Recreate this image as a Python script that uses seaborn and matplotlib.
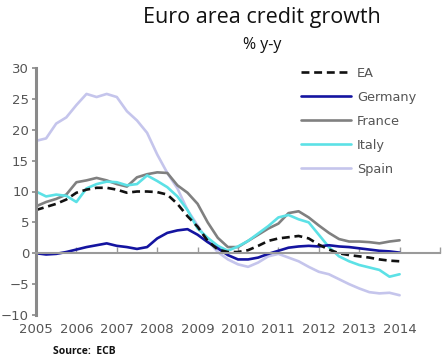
import numpy as np
import pandas as pd
import matplotlib
matplotlib.use("Agg")
import matplotlib.pyplot as plt
import seaborn as sns

# ---- data (quarterly, % y-y) ----
dates = [2005.0 + 0.25 * i for i in range(37)]

ea = [7.0, 7.5, 8.0, 8.7, 9.8, 10.3, 10.6, 10.6, 10.3, 9.8, 10.0, 10.0, 9.9,
      9.5, 8.0, 6.0, 4.3, 2.0, 0.6, 0.2, 0.2, 0.5, 1.2, 2.0, 2.4, 2.6, 2.8,
      2.4, 1.4, 0.6, 0.0, -0.3, -0.5, -0.7, -1.0, -1.2, -1.3]
germany = [0.0, -0.2, -0.1, 0.2, 0.6, 1.0, 1.3, 1.6, 1.2, 1.0, 0.7, 1.0, 2.4,
           3.3, 3.7, 3.9, 3.0, 1.8, 0.8, -0.3, -1.0, -1.0, -0.7, -0.1, 0.4,
           0.9, 1.1, 1.2, 1.1, 1.3, 1.1, 1.0, 0.8, 0.6, 0.4, 0.3, 0.1]
france = [7.6, 8.3, 8.8, 9.5, 11.5, 11.8, 12.2, 11.8, 11.2, 10.8, 12.3, 12.8,
          13.1, 13.0, 11.0, 9.8, 8.0, 5.0, 2.5, 1.0, 1.0, 2.0, 3.0, 4.0, 4.8,
          6.5, 6.8, 5.8, 4.5, 3.3, 2.3, 1.9, 1.9, 1.8, 1.6, 1.9, 2.1]
italy = [10.0, 9.2, 9.5, 9.3, 8.3, 10.5, 11.2, 11.6, 11.5, 11.0, 11.2, 12.6,
         11.7, 10.7, 9.2, 7.0, 4.0, 2.5, 1.2, 0.4, 1.1, 2.0, 3.2, 4.4, 5.8,
         6.2, 5.5, 5.0, 3.0, 1.0, -0.5, -1.3, -1.9, -2.3, -2.7, -3.8, -3.4]
spain = [18.2, 18.6, 21.0, 22.0, 24.0, 25.8, 25.3, 25.8, 25.3, 23.0, 21.5,
         19.5, 16.0, 13.0, 10.5, 7.0, 4.5, 2.0, 0.2, -1.0, -1.8, -2.2, -1.5,
         -0.5, -0.1, -0.7, -1.3, -2.2, -3.0, -3.4, -4.2, -5.0, -5.7, -6.3,
         -6.5, -6.4, -6.8]

series_names = ["EA", "Germany", "France", "Italy", "Spain"]
x_tick_years = list(range(2006, 2016))
x_label_years = list(range(2005, 2015))
y_ticks = [-10, -5, 0, 5, 10, 15, 20, 25, 30]

df = pd.DataFrame({"date": dates, "EA": ea, "Germany": germany,
                   "France": france, "Italy": italy, "Spain": spain})
long = df.melt(id_vars="date", var_name="series", value_name="value")

palette = {"EA": "#111111", "Germany": "#1414a0", "France": "#808080",
           "Italy": "#5ce1e6", "Spain": "#c5c5ec"}

sns.set_theme(style="white")
plt.rcParams["font.family"] = ["DejaVu Sans"]

fig = plt.figure(figsize=(4.45, 3.63), dpi=100)
ax = fig.add_axes([36 / 445, 1 - 315 / 363, 404 / 445, 247 / 363])

# draw back-to-front like the reference (Spain underneath)
order = ["Spain", "France", "Italy", "Germany", "EA"]
for name in order:
    sub = long[long["series"] == name]
    sns.lineplot(data=sub, x="date", y="value", ax=ax, color=palette[name],
                 lw=1.9, label=name, legend=False)
    if name == "EA":
        ax.lines[-1].set_dashes([3, 1.8])

ax.set_xlim(2005, 2015)
ax.set_ylim(-10, 30)
ax.set_xlabel("")
ax.set_ylabel("")

for s in ["top", "right"]:
    ax.spines[s].set_visible(False)
ax.spines["left"].set_color("#8a8a8a")
ax.spines["left"].set_linewidth(2.2)
ax.spines["bottom"].set_position(("data", 0))
ax.spines["bottom"].set_color("#9a9a9a")
ax.spines["bottom"].set_linewidth(1.5)

ax.set_yticks(y_ticks)
ax.tick_params(axis="y", direction="out", length=3, width=1.2,
               color="#8a8a8a", labelcolor="#555555", labelsize=9.5, pad=2,
               left=True)
ax.set_xticks(x_tick_years)
ax.tick_params(axis="x", direction="in", length=4, width=1.0,
               color="#9a9a9a", labelbottom=False, bottom=True)

sec = ax.secondary_xaxis("bottom")
sec.set_xticks(x_label_years)
sec.set_xticklabels([str(y) for y in x_label_years])
sec.spines["bottom"].set_visible(False)
sec.tick_params(axis="x", length=0, labelcolor="#555555", labelsize=9.5,
                pad=6)

# legend in reference order
handles = {l.get_label(): l for l in ax.lines}
leg = ax.legend([handles[n] for n in series_names], series_names,
                loc="upper left", bbox_to_anchor=(0.655, 1.005),
                frameon=False, fontsize=9.3, handlelength=3.9,
                handletextpad=0.45, labelspacing=0.85, borderpad=0,
                borderaxespad=0)
for t in leg.get_texts():
    t.set_color("#555555")

fig.text(262 / 445, 1 - 18 / 363, "Euro area credit growth", ha="center",
         va="center", fontsize=15.5, family=["Open Sans", "DejaVu Sans"],
         color="#111111")
fig.text(262 / 445, 1 - 45 / 363, "% y-y", ha="center", va="center",
         fontsize=11.5, family=["Open Sans", "DejaVu Sans"], color="#111111")
fig.text(53 / 445, 1 - 352 / 363, "Source:  ECB", ha="left", va="center",
         fontsize=7.5, fontweight="bold", family=["Open Sans", "DejaVu Sans"],
         color="#111111")

fig.savefig("out.png", dpi=100)
